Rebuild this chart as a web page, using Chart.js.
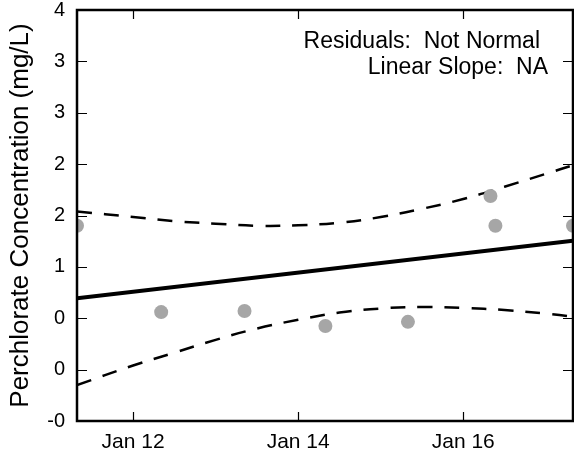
<!DOCTYPE html>
<html>
<head>
  <meta charset="utf-8">
  <title>Perchlorate Concentration</title>
  <script src="https://cdn.jsdelivr.net/npm/chart.js"></script>
  <style>
    html, body { margin: 0; padding: 0; background: #fff; }
    .wrap { width: 574px; height: 454px; position: relative; }
  </style>
</head>
<body>
  <div class="wrap"><canvas id="chart"></canvas></div>

  <script>
    // y axis tick labels, as printed on the original (one per step, bottom to top)
    const yTickLabels = ['-0', '0', '0', '1', '2', '2', '3', '3', '4'];
    const xTicks = [12, 14, 16];           // day of January
    const xMin = 11.32, xMax = 17.33;

    // observed samples
    const sampleDays = [11.32, 12.34, 13.35, 14.33, 15.33, 16.33, 16.39, 17.33];
    const sampleValues = [3.80, 2.12, 2.14, 1.85, 1.93, 4.38, 3.80, 3.80];

    // linear fit
    const fitDays = [11.32, 17.33];
    const fitValues = [2.39, 3.51];

    // confidence band
    const bandDays = [11.32, 12, 12.5, 13, 13.5, 14, 14.5, 15, 15.5, 16, 16.5, 17, 17.33];
    const upperValues = [4.08, 3.97, 3.89, 3.84, 3.80, 3.81, 3.86, 3.97, 4.13, 4.32, 4.56, 4.81, 4.98];
    const lowerValues = [0.70, 1.08, 1.33, 1.58, 1.80, 1.97, 2.11, 2.19, 2.22, 2.20, 2.16, 2.09, 2.03];

    const notes = ['Residuals:  Not Normal', 'Linear Slope:  NA'];

    const pts = (xs, ys) => xs.map((x, i) => ({ x, y: ys[i] }));
    const FONT = "'Liberation Sans', Arial, Helvetica, sans-serif";

    // frame, inward tick marks and the text box
    const framePlugin = {
      id: 'frame',
      afterDatasetsDraw(chart) {
        const { ctx, chartArea: a, scales: { x, y } } = chart;
        ctx.save();
        ctx.strokeStyle = '#000';
        ctx.lineWidth = 1.2;
        ctx.beginPath();
        xTicks.forEach(v => {
          const px = Math.round(x.getPixelForValue(v)) + 0.5;
          ctx.moveTo(px, a.bottom); ctx.lineTo(px, a.bottom - 9);
          ctx.moveTo(px, a.top); ctx.lineTo(px, a.top + 9);
        });
        yTickLabels.forEach((_, i) => {
          const py = Math.round(y.getPixelForValue(i)) + 0.5;
          ctx.moveTo(a.left, py); ctx.lineTo(a.left + 10, py);
          ctx.moveTo(a.right, py); ctx.lineTo(a.right - 10, py);
        });
        ctx.stroke();

        ctx.lineWidth = 2.5;
        ctx.strokeRect(a.left, a.top, a.right - a.left, a.bottom - a.top);

        ctx.fillStyle = '#000';
        ctx.font = `23px ${FONT}`;
        ctx.textAlign = 'right';
        ctx.textBaseline = 'alphabetic';
        ctx.fillText(notes[0], a.right - 33, a.top + 38);
        ctx.fillText(notes[1], a.right - 25, a.top + 64);
        ctx.restore();
      }
    };

    new Chart(document.getElementById('chart'), {
      type: 'scatter',
      data: {
        datasets: [
          {
            label: 'samples',
            data: pts(sampleDays, sampleValues),
            backgroundColor: '#a6a6a6',
            borderWidth: 0,
            pointRadius: 7,
            clip: 0
          },
          {
            label: 'fit',
            type: 'line',
            data: pts(fitDays, fitValues),
            borderColor: '#000',
            borderWidth: 4,
            pointRadius: 0,
            clip: 0
          },
          {
            label: 'upper',
            type: 'line',
            data: pts(bandDays, upperValues),
            borderColor: '#000',
            borderWidth: 2.5,
            borderDash: [15, 12],
            tension: 0.4,
            pointRadius: 0,
            clip: 0
          },
          {
            label: 'lower',
            type: 'line',
            data: pts(bandDays, lowerValues),
            borderColor: '#000',
            borderWidth: 2.5,
            borderDash: [15, 12],
            tension: 0.4,
            pointRadius: 0,
            clip: 0
          }
        ]
      },
      options: {
        responsive: true,
        maintainAspectRatio: false,
        devicePixelRatio: 1,
        animation: false,
        layout: { autoPadding: false, padding: { top: 10, right: 1, left: 0, bottom: 0 } },
        plugins: { legend: { display: false }, tooltip: { enabled: false } },
        scales: {
          x: {
            type: 'linear',
            min: xMin,
            max: xMax,
            afterBuildTicks: s => { s.ticks = xTicks.map(v => ({ value: v })); },
            afterFit: s => { s.height = 33; s.paddingLeft = 0; s.paddingRight = 0; },
            grid: { display: false, drawTicks: false },
            border: { display: false },
            ticks: {
              color: '#000',
              padding: 9,
              maxRotation: 0,
              font: { family: FONT, size: 21 },
              callback: v => 'Jan ' + v
            }
          },
          y: {
            min: 0,
            max: yTickLabels.length - 1,
            afterFit: s => { s.width = 77; s.paddingTop = 0; s.paddingBottom = 0; },
            grid: { display: false, drawTicks: false },
            border: { display: false },
            ticks: {
              stepSize: 1,
              color: '#000',
              padding: 12,
              font: { family: FONT, size: 20 },
              callback: v => yTickLabels[v]
            },
            title: {
              display: true,
              text: 'Perchlorate Concentration (mg/L)',
              color: '#000',
              padding: { top: 5, bottom: 0 },
              font: { family: FONT, size: 26 }
            }
          }
        }
      },
      plugins: [framePlugin]
    });
  </script>
</body>
</html>
